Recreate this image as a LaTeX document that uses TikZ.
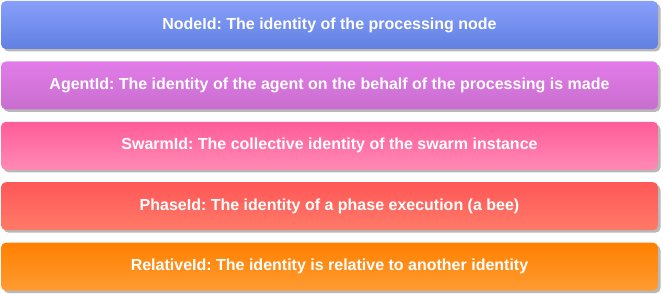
\documentclass[tikz,border=0pt]{standalone}
\usepackage{fontspec}
\setmainfont{Liberation Sans}
\frenchspacing
\usetikzlibrary{positioning, shadows}

\definecolor{nodetop}{HTML}{889FFA}
\definecolor{nodebot}{HTML}{6180E2}
\definecolor{agenttop}{HTML}{E27CE8}
\definecolor{agentbot}{HTML}{C86ECF}
\definecolor{swarmtop}{HTML}{FF5C98}
\definecolor{swarmbot}{HTML}{FF8AB4}
\definecolor{phasetop}{HTML}{FF5757}
\definecolor{phasebot}{HTML}{FF7A68}
\definecolor{reltop}{HTML}{FF8000}
\definecolor{relbot}{HTML}{FF9B32}

\begin{document}
\begin{tikzpicture}[
            x = 1pt, y = 1pt,
            node distance = 12pt, % gap between the boxes
            font = \bfseries\fontsize{16}{18}\selectfont
        ]

        \tikzstyle{idbox}=[
        rounded corners = 5pt,
        minimum width = 657pt,
        minimum height = 48pt,
        inner sep = 0pt,
        text = white,
        drop shadow = {shadow xshift=2.5pt, shadow yshift=-2.5pt,
                       fill=black!28, opacity=1}
        ]

        \useasboundingbox (0,0) rectangle (663,-294);

        \node (node) [idbox, top color=nodetop, bottom color=nodebot]
            at (329.5,-25) {NodeId: The identity of the processing node};
        \node (agent) [idbox, top color=agenttop, bottom color=agentbot, below=of node]
            {AgentId: The identity of the agent on the behalf of the processing is made};
        \node (swarm) [idbox, top color=swarmtop, bottom color=swarmbot, below=of agent]
            {SwarmId: The collective identity of the swarm instance};
        \node (phase) [idbox, top color=phasetop, bottom color=phasebot, below=of swarm]
            {PhaseId: The identity of a phase execution (a bee)};
        \node (rel) [idbox, top color=reltop, bottom color=relbot, below=of phase]
            {RelativeId: The identity is relative to another identity};
    \end{tikzpicture}
\end{document}
